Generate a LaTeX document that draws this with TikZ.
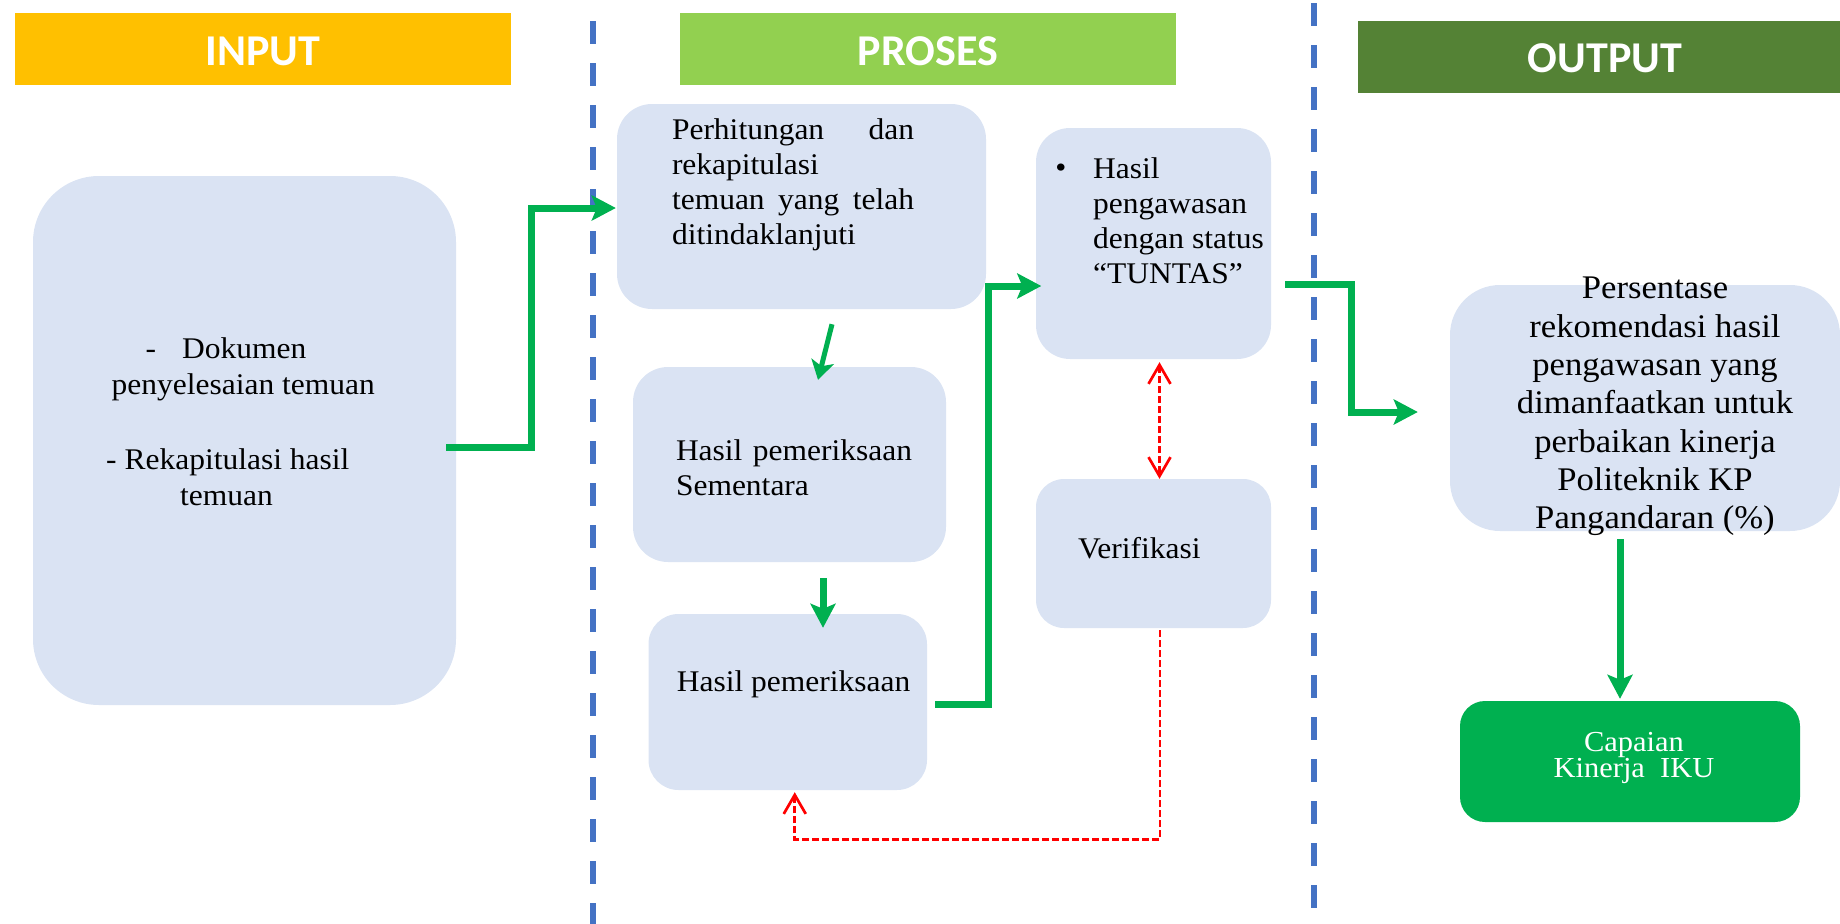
\documentclass[tikz,border=0pt]{standalone}
\usepackage{fontspec}
\setmainfont{Liberation Serif}[FakeStretch=1.05]
\newfontfamily\headfont{Carlito}
\usetikzlibrary{arrows.meta,calc}
\definecolor{boxfill}{HTML}{DAE3F3}
\definecolor{inputc}{HTML}{FFC000}
\definecolor{prosesc}{HTML}{92D050}
\definecolor{outputc}{HTML}{548235}
\definecolor{gline}{HTML}{00B050}
\definecolor{dashblue}{HTML}{4472C4}
\definecolor{redc}{HTML}{FF0000}
\setlength{\lineskiplimit}{-50pt}
\begin{document}
\begin{tikzpicture}[x=1pt,y=-1pt,
  box/.style={fill=boxfill, draw=none, inner sep=0pt, rounded corners=#1},
  hdrbox/.style={draw=none, inner sep=0pt, minimum height=72pt},
  hdr/.style={inner sep=0pt, text=white, font=\headfont\bfseries\fontsize{44}{50}\selectfont},
  txt/.style={inner sep=0pt, text=black, font=\fontsize{30}{35}\selectfont},
  garrow/.style={draw=gline, line width=7pt, line join=miter, -{Stealth[length=24pt,width=25pt,inset=5pt]}},
  gthin/.style={draw=gline, line width=5pt, -{Stealth[length=19pt,width=23pt,inset=5pt]}},
  vline/.style={draw=dashblue, line width=6pt, dash pattern=on 23pt off 19pt},
  rline/.style={draw=redc, line width=2.7pt, dash pattern=on 7pt off 3pt},
  rtip/.tip={Straight Barb[length=19pt,width=22pt,line width=2.7pt]}
]
\useasboundingbox (0,0) rectangle (1840,924);

% headers
\node[hdrbox, fill=inputc, minimum width=496pt] (hin) at (263,49) {};
\node[hdrbox, fill=prosesc, minimum width=496pt] (hpro) at (928,49) {};
\node[hdrbox, fill=outputc, minimum width=482pt] (hout) at (1599,57) {};
\node[hdr] (hintext) at (263,51.5) {INPUT};
\node[hdr] (hprotext) at (928,51.5) {PROSES};
\node[hdr] (houttext) at (1605,58.5) {OUTPUT};

% separators
\coordinate (d1a) at (593,21); \coordinate (d1b) at (593,924);
\coordinate (d2a) at (1314,3); \coordinate (d2b) at (1314,909);
\draw[vline] (d1a) -- (d1b);
\draw[vline] (d2a) -- (d2b);

% boxes
\node[box=66pt, minimum width=423pt, minimum height=529pt] (inbox) at (244.5,440.5) {};
\node[box=35pt, minimum width=369pt, minimum height=205pt] (perh) at (801.5,206.5) {};
\node[box=35pt, minimum width=313pt, minimum height=195pt] (sem) at (789.5,464.5) {};
\node[box=30pt, minimum width=278.5pt, minimum height=176pt] (hp) at (787.75,702) {};
\node[box=34pt, minimum width=235pt, minimum height=231pt] (peng) at (1153.5,243.5) {};
\node[box=28pt, minimum width=235pt, minimum height=149pt] (ver) at (1153.5,553.5) {};
\node[box=50pt, minimum width=390pt, minimum height=246pt] (pers) at (1645,408) {};
\node[box=25pt, fill=gline, minimum width=340pt, minimum height=121pt] (cap) at (1630,761.5) {};

% texts
\node[txt, align=left, anchor=west, font=\fontsize{30}{36}\selectfont] (intext) at (106,421.75)
  {\hspace*{39.5pt}-\hspace{26pt}Dokumen\\ \hspace*{5.5pt}penyelesaian temuan\\[39pt] - Rekapitulasi hasil\\ \hspace*{74pt}temuan};
\node[txt, text width=242pt, align=left] (perhtext) at (793,184.5)
  {Perhitungan\hfill dan\\ rekapitulasi\\ temuan\hfill yang\hfill telah\\ ditindaklanjuti};
\node[txt, text width=236pt, align=left] (semtext) at (794,467.5)
  {Hasil\hfill pemeriksaan\\ Sementara};
\node[txt, anchor=west] (hptext) at (676.6,684.5) {Hasil pemeriksaan};
\node[txt] (bul) at (1061,171) {•};
\node[txt, align=left, anchor=west] (pengtext) at (1093,220.5)
  {Hasil\\ pengawasan\\ dengan status\\ “TUNTAS”};
\node[txt, anchor=west] (vertext) at (1078,548) {Verifikasi};
\node[txt, align=center, font=\fontsize{33}{38.3}\selectfont] (perstext) at (1655,406.5)
  {Persentase\\ rekomendasi hasil\\ pengawasan yang\\ dimanfaatkan untuk\\ perbaikan kinerja\\ Politeknik KP\\ Pangandaran (\%)};
\node[txt, text=white, align=center, font=\fontsize{29}{26}\selectfont] (captext) at (1634,758)
  {Capaian\\ Kinerja\ \ IKU};

% green connectors
\draw[garrow] ([shift={(-10,6.5)}]inbox.east) -- ++(85,0) |- ([shift={(-1,1.5)}]perh.west);
\draw[gthin] ([shift={(30.5,15)}]perh.south) -- ([shift={(28.5,13)}]sem.north);
\draw[garrow] ([shift={(33.5,16)}]sem.south) -- ([shift={(35.25,14)}]hp.north);
\draw[garrow] ([shift={(8,2)}]hp.east) -- ++(53,0) |- ([shift={(5.5,42.5)}]peng.west);
\draw[garrow] ([shift={(14,40.5)}]peng.east) -- ++(66,0) |- ([shift={(-32,4)}]pers.west);
\draw[garrow] ([shift={(-25,8)}]pers.south) -- ([shift={(-10,-2)}]cap.north);

% red connectors
\draw[rline, rtip-rtip] ([shift={(6,3)}]peng.south) -- ([shift={(6,0)}]ver.north);
\draw[rline, -rtip] ([shift={(6.5,2)}]ver.south) -- ++(0,209) -| ([shift={(7,2)}]hp.south);
\end{tikzpicture}
\end{document}
